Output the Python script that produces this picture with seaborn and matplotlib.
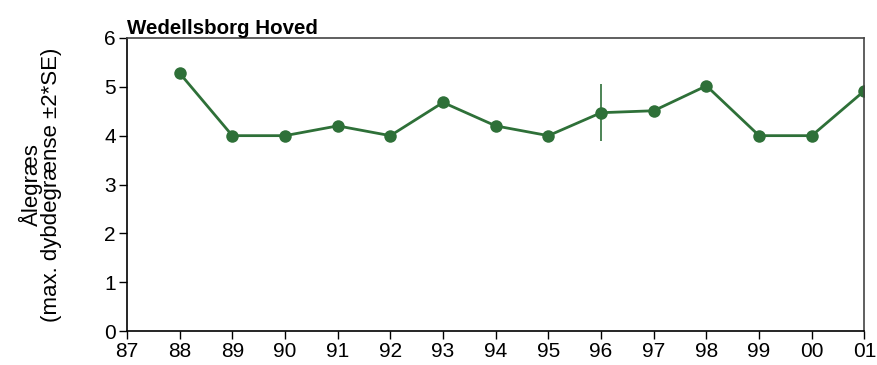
import numpy as np
import pandas as pd
import matplotlib
matplotlib.use("Agg")
import matplotlib.pyplot as plt
import seaborn as sns

# ------------------------------
# Data
# ------------------------------
years = ["87", "88", "89", "90", "91", "92", "93", "94", "95", "96", "97", "98", "99", "00", "01"]
depth = [np.nan, 5.28, 4.0, 4.0, 4.2, 4.0, 4.68, 4.2, 4.0, 4.47, 4.51, 5.02, 4.0, 4.0, 4.92]
err_year = ["96"]
err_low = [3.89]
err_high = [5.06]

green = "#2e7038"

sns.set_style("white")
plt.rcParams["font.family"] = ["Liberation Sans", "DejaVu Sans"]
plt.rcParams["text.color"] = "black"
plt.rcParams["axes.labelcolor"] = "black"

df = pd.DataFrame({"pos": np.arange(len(years)), "depth": depth}).dropna()

fig = plt.figure(figsize=(8.78, 3.65), dpi=100)
ax = fig.add_axes([0.1446, 0.093, 0.840, 0.803])

sns.lineplot(data=df, x="pos", y="depth", color=green, linewidth=2,
             marker="o", markersize=9, markeredgewidth=0, ax=ax)

for yr, lo, hi in zip(err_year, err_low, err_high):
    ax.vlines(years.index(yr), lo, hi, color=green, linewidth=1.2)

ax.set_xlim(0, len(years) - 1)
ax.set_ylim(0, 6)
ax.set_xticks(np.arange(len(years)))
ax.set_xticklabels(years)
ax.set_yticks(range(7))
ax.tick_params(axis="both", direction="out", length=6, width=1, labelsize=15,
               bottom=True, left=True, colors="black", pad=2)
for s in ["left", "bottom"]:
    ax.spines[s].set_color("black")
    ax.spines[s].set_linewidth(1.2)
for s in ["top", "right"]:
    ax.spines[s].set_color("#444444")
    ax.spines[s].set_linewidth(1.2)

ax.set_xlabel("")
ax.set_ylabel("Ålegræs\n(max. dybdegrænse ±2*SE)", fontsize=16, labelpad=30,
              linespacing=0.9)
ax.set_title("Wedellsborg Hoved", loc="left", fontsize=14.8, fontweight="bold",
             pad=3, color="black")

fig.savefig("out.png", dpi=100)
